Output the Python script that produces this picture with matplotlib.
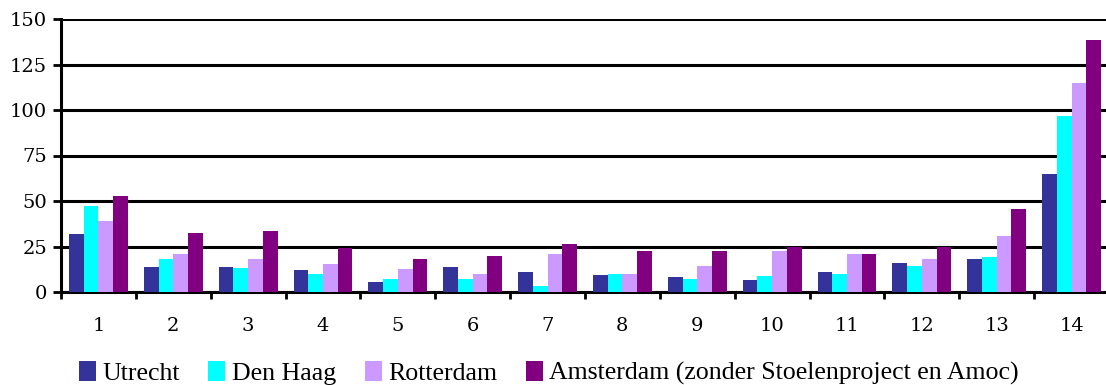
import numpy as np
import matplotlib
matplotlib.use("Agg")
import matplotlib.pyplot as plt

categories = [str(i) for i in range(1, 15)]
utrecht = [32, 14, 14, 12, 5.5, 13.7, 11, 9.4, 8.3, 6.6, 11, 16.2, 18, 65]
den_haag = [47.2, 18.3, 13, 10, 7, 7.1, 3.4, 10, 7.1, 8.7, 9.7, 14.1, 19.5, 96.7]
rotterdam = [39.1, 21, 18.3, 15.5, 12.8, 9.9, 20.9, 10, 14.2, 22.4, 20.7, 18, 30.7, 115]
amsterdam = [52.5, 32.2, 33.5, 24.1, 18.1, 19.6, 26.3, 22.4, 22.4, 25, 20.7, 24.8, 45.7, 138.4]

series = [
    ("Utrecht", utrecht, "#333399"),
    ("Den Haag", den_haag, "#00ffff"),
    ("Rotterdam", rotterdam, "#cc99ff"),
    ("Amsterdam (zonder Stoelenproject en Amoc)", amsterdam, "#800080"),
]

plt.rcParams['font.family'] = ['DejaVu Serif']

fig = plt.figure(figsize=(11.06, 3.85), dpi=100)
ax = fig.add_axes([61 / 1106, 93 / 385, 1048 / 1106, 273 / 385])

x = np.arange(len(categories))
w = 0.197
for i, (name, vals, col) in enumerate(series):
    ax.bar(x + (i - 1.5) * w, vals, width=w, color=col, label=name, zorder=3)

ax.set_xlim(-0.5, len(categories) - 0.5)
ax.set_ylim(0, 150)
ax.set_yticks(np.arange(0, 151, 25))
ax.yaxis.grid(True, color="black", linewidth=2.2, zorder=0)
ax.set_axisbelow(True)

# ticks at the category borders, labels in the middle
ax.set_xticks(np.arange(-0.5, len(categories), 1))
ax.set_xticklabels([])
ax.set_xticks(x, minor=True)
ax.set_xticklabels(categories, minor=True)
ax.tick_params(axis="x", which="major", length=5, width=2, direction="out")
ax.tick_params(axis="x", which="minor", length=0, pad=18, labelsize=14)
ax.tick_params(axis="y", length=6, width=2, labelsize=14, pad=4)

for s in ["top", "right"]:
    ax.spines[s].set_visible(False)
ax.spines["left"].set_linewidth(2.2)
ax.spines["bottom"].set_linewidth(2.2)

fig.legend(loc="lower left", bbox_to_anchor=(79 / 1106, 0.0), ncol=4,
           frameon=False, prop={"family": "Liberation Serif", "size": 18.6},
           handlelength=0.66, handleheight=0.82, handletextpad=0.25,
           columnspacing=1.1, borderpad=0, borderaxespad=0)

fig.savefig("out.png", dpi=100)
